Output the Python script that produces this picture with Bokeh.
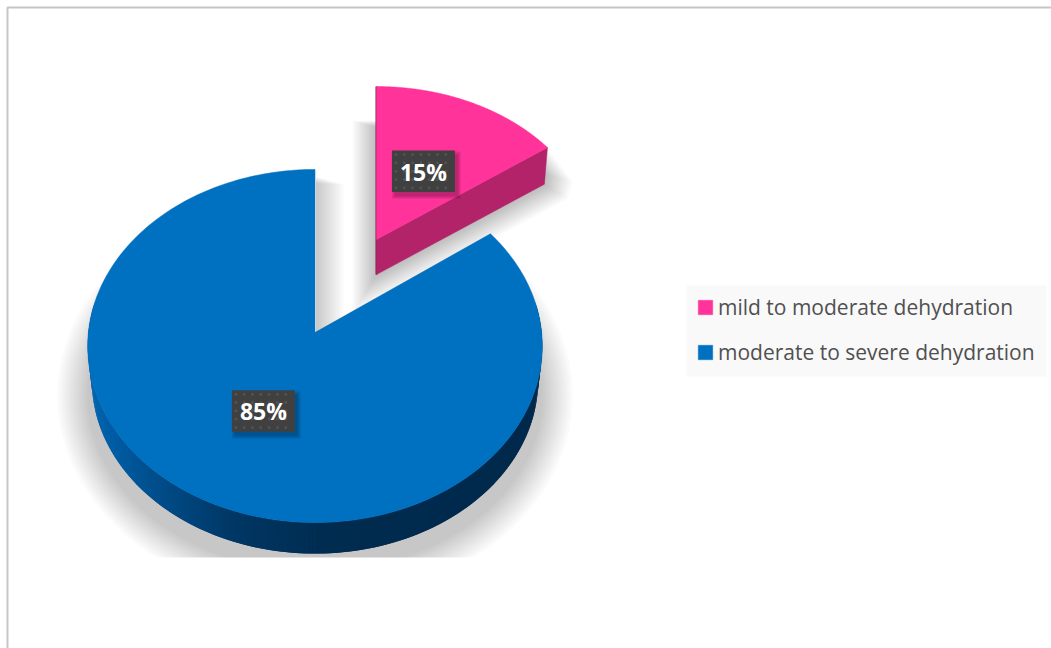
import numpy as np
from bokeh.core.properties import value
from bokeh.embed import file_html
from bokeh.models import Legend, LegendItem, Range1d
from bokeh.plotting import figure
from bokeh.resources import INLINE

# Chart data
categories = ["mild to moderate dehydration", "moderate to severe dehydration"]
shares = [15, 85]
share_labels = ["15%", "85%"]
top_colors = ["#FF3399", "#0070C0"]

W, H = 1051, 648
FLOOR_Y = 557          # the drop shadows stop at this line
PINK_SHADOW_TOP = 120  # and the exploded slice's shadow at this one

# Start and end angle of each slice, clockwise from twelve o'clock (degrees)
ends = np.cumsum(shares) / np.sum(shares) * 360.0
starts = np.concatenate([[0.0], ends[:-1]])

# Perspective set-up for each slice: apex position, half-axes, foreshortening
VIEW = [
    dict(cx=376.0, cy=239.0, A=161.7, B=218.4, k=0.057),
    dict(cx=314.5, cy=332.0, A=175.5, B=226.6, k=0.0765),
]
WALL_SCALE = 0.982
WALL_DROP = [35.0, 34.5]


def project(view, u, v, lower=0.0):
    """Map a point of the unit pie plane to the page, optionally on the base."""
    d = 1.0 + view["k"] * v
    x = view["B"] * u / d
    y = -view["A"] * v / d
    if lower:
        x, y = x * WALL_SCALE, y * WALL_SCALE + lower
    return view["cx"] + x, view["cy"] + y


def arc(view, a0, a1, n=160, lower=0.0):
    t = np.radians(np.linspace(a0, a1, n))
    return project(view, np.sin(t), np.cos(t), lower)


def offset_convex(xs, ys, e):
    """Grow a convex outline outwards by e pixels."""
    xs, ys = np.asarray(xs, float), np.asarray(ys, float)
    cx, cy = xs.mean(), ys.mean()
    n = len(xs)
    out_x, out_y = [], []
    normals = []
    for i in range(n):
        j = (i + 1) % n
        dx, dy = xs[j] - xs[i], ys[j] - ys[i]
        L = np.hypot(dx, dy)
        nx, ny = dy / L, -dx / L
        if nx * ((xs[i] + xs[j]) / 2 - cx) + ny * ((ys[i] + ys[j]) / 2 - cy) < 0:
            nx, ny = -nx, -ny
        normals.append((nx, ny))
    for i in range(n):
        n0, n1 = normals[i - 1], normals[i]
        f = e / (1.0 + n0[0] * n1[0] + n0[1] * n1[1])
        out_x.append(xs[i] + f * (n0[0] + n1[0]))
        out_y.append(ys[i] + f * (n0[1] + n1[1]))
    return np.array(out_x), np.array(out_y)


def lerp_color(stops, x):
    xp = [s[0] for s in stops]
    rgb = [np.interp(x, xp, [s[1][c] for s in stops]) for c in range(3)]
    return "#%02x%02x%02x" % tuple(int(round(c)) for c in rgb)


p = figure(
    width=W, height=H, x_range=Range1d(0, W), y_range=Range1d(H, 0),
    output_backend="svg", toolbar_location=None, min_border=0,
    background_fill_color="white", border_fill_color="white",
    outline_line_color=None,
)
p.axis.visible = False
p.grid.visible = False

# Chart area frame, running off the right and bottom of the page
p.quad(left=[7], right=[W + 20], top=[7], bottom=[H + 20],
       fill_color=None, line_color="#c6c6c6", line_width=2)

# Legend panel
p.quad(left=[686], right=[1046], top=[285], bottom=[376], fill_color="#f9f9f9", line_color=None)

pink, blue = VIEW
SHADOW_STEPS = 14

# Soft shadow under the large slice
for i in range(SHADOW_STEPS):
    e = 30.0 * (1 - i / (SHADOW_STEPS - 1))
    t = np.linspace(0, 2 * np.pi, 240)
    sx = blue["cx"] + (228 + e) * np.sin(t)
    sy = 395 + (176 + e) * np.cos(t)
    p.patch(sx, np.minimum(sy, FLOOR_Y), fill_color="black", fill_alpha=0.017, line_color=None)

# The gap between the slices stays clear of that shadow
gap_x, gap_y = arc(blue, ends[0], 0.0, 60)
gap_ox, gap_oy = project(blue, 0.0, 0.0)
p.patch(np.concatenate([[gap_ox], gap_ox + (gap_x - gap_ox) * 1.4]),
        np.concatenate([[gap_oy], gap_oy + (gap_y - gap_oy) * 1.4]),
        fill_color="white", line_color=None)

# Shadow thrown into the gap along the large slice's straight edge
for i in range(SHADOW_STEPS):
    w = 27.0 * (1 - i / (SHADOW_STEPS - 1)) + 1
    edge = blue["cx"] + 1
    top = 176 + (27 - w) * 0.25
    p.patch([edge, edge + w, edge + w, edge], [top, top + w * 0.3, blue["cy"] + 10, blue["cy"] + 10],
            fill_color="black", fill_alpha=0.016, line_color=None)

# Shadow around the exploded slice
a_x, a_y = project(pink, 0.0, 0.0, WALL_DROP[0])
corner = np.radians(ends[0])
c0_x, c0_y = project(pink, np.sin(corner), np.cos(corner), WALL_DROP[0])
c1_x, c1_y = project(pink, np.sin(corner), np.cos(corner))
t0_x, t0_y = project(pink, 0.0, 1.0)
hull_x = [t0_x, c1_x, c0_x, a_x]
hull_y = [PINK_SHADOW_TOP, c1_y, c0_y, a_y]
for i in range(SHADOW_STEPS):
    e = 24.0 * (1 - i / (SHADOW_STEPS - 1))
    ox, oy = offset_convex(hull_x, hull_y, e)
    # the outline narrows past the slice's outer corner instead of rising above it
    ceiling = np.where(ox > c1_x, c1_y + (ox - c1_x) * 1.3, PINK_SHADOW_TOP)
    p.patch(ox, np.maximum(oy, ceiling), fill_color="black", fill_alpha=0.02, line_color=None)

# Outer wall of the large slice, shaded from left to right
wall_stops = [
    (90, (0, 100, 175)), (150, (0, 78, 140)), (230, (0, 55, 100)),
    (320, (0, 44, 80)), (540, (0, 41, 75)),
]
xt, yt = arc(blue, 80, 280, 200)
xb, yb = arc(blue, 80, 280, 200, lower=WALL_DROP[1])
strip_x, strip_y, strip_c = [], [], []
for i in range(len(xt) - 2):
    # each strip laps over the next so no seams show through
    strip_x.append([xt[i], xt[i + 2], xb[i + 2], xb[i]])
    strip_y.append([yt[i], yt[i + 2], yb[i + 2], yb[i]])
    strip_c.append(lerp_color(wall_stops, xt[i + 1]))
p.patches(strip_x, strip_y, fill_color=strip_c, line_color=None)

# Cut wall of the exploded slice, with the thin dark sliver on its left
p.patch([a_x - 1, a_x + 1, t0_x + 1, t0_x - 1], [a_y, a_y, t0_y, t0_y],
        fill_color="#7d1a4f", line_color=None)
ax0, ay0 = project(pink, 0.0, 0.0)
p.patch([ax0, c1_x, c0_x, a_x], [ay0, c1_y, c0_y, a_y], fill_color="#B32369", line_color="#B32369", line_width=0.5)

# Top faces
top_renderers = []
for i, view in enumerate(VIEW):
    ox, oy = project(view, 0.0, 0.0)
    ax, ay = arc(view, starts[i], ends[i], 240)
    r = p.patch(np.concatenate([[ox], ax]), np.concatenate([[oy], ay]),
                fill_color=top_colors[i], line_color=top_colors[i], line_width=0.5)
    top_renderers.append(r)

# Value labels on dark dotted plates, placed along each slice's middle angle
LABEL_R = 0.485
PLATE_W, PLATE_H = 63.0, 41.5
DOT_STEP = 8.3
for i, view in enumerate(VIEW):
    mid = np.radians((starts[i] + ends[i]) / 2)
    lx, ly = project(view, LABEL_R * np.sin(mid), LABEL_R * np.cos(mid))
    for j in range(4):
        g = 3 - j
        p.rect([lx + 3], [ly + 4], width=PLATE_W + 2 * g, height=PLATE_H + 2 * g,
               fill_color="black", fill_alpha=0.07, line_color=None)
    p.rect([lx], [ly], width=PLATE_W, height=PLATE_H, fill_color="#404040", line_color=None)
    gx = lx - PLATE_W / 2 + 4 + DOT_STEP * np.arange(int(PLATE_W // DOT_STEP))
    gy = ly - PLATE_H / 2 + 4 + DOT_STEP * np.arange(int(PLATE_H // DOT_STEP) + 1)
    mx, my = np.meshgrid(gx, gy)
    p.scatter(mx.ravel(), my.ravel(), marker="circle", size=3, fill_color="#525252", line_color=None)
    p.text([lx], [ly + 0.5], text=[share_labels[i]], text_color="white",
           text_font=value("Open Sans"), text_font_style="bold", text_font_size="23px",
           text_align="center", text_baseline="middle")

legend = Legend(
    items=[LegendItem(label=c, renderers=[r]) for c, r in zip(categories, top_renderers)],
    location=(696, H - 366), orientation="vertical",
    background_fill_alpha=0.0, border_line_color=None,
    label_text_font="Open Sans", label_text_font_size="21px", label_text_color="#505050",
    glyph_width=18, glyph_height=18, label_standoff=4, spacing=17,
    padding=20, margin=0,
)
p.add_layout(legend, "center")

open("out.html", "w").write(file_html(p, INLINE))
